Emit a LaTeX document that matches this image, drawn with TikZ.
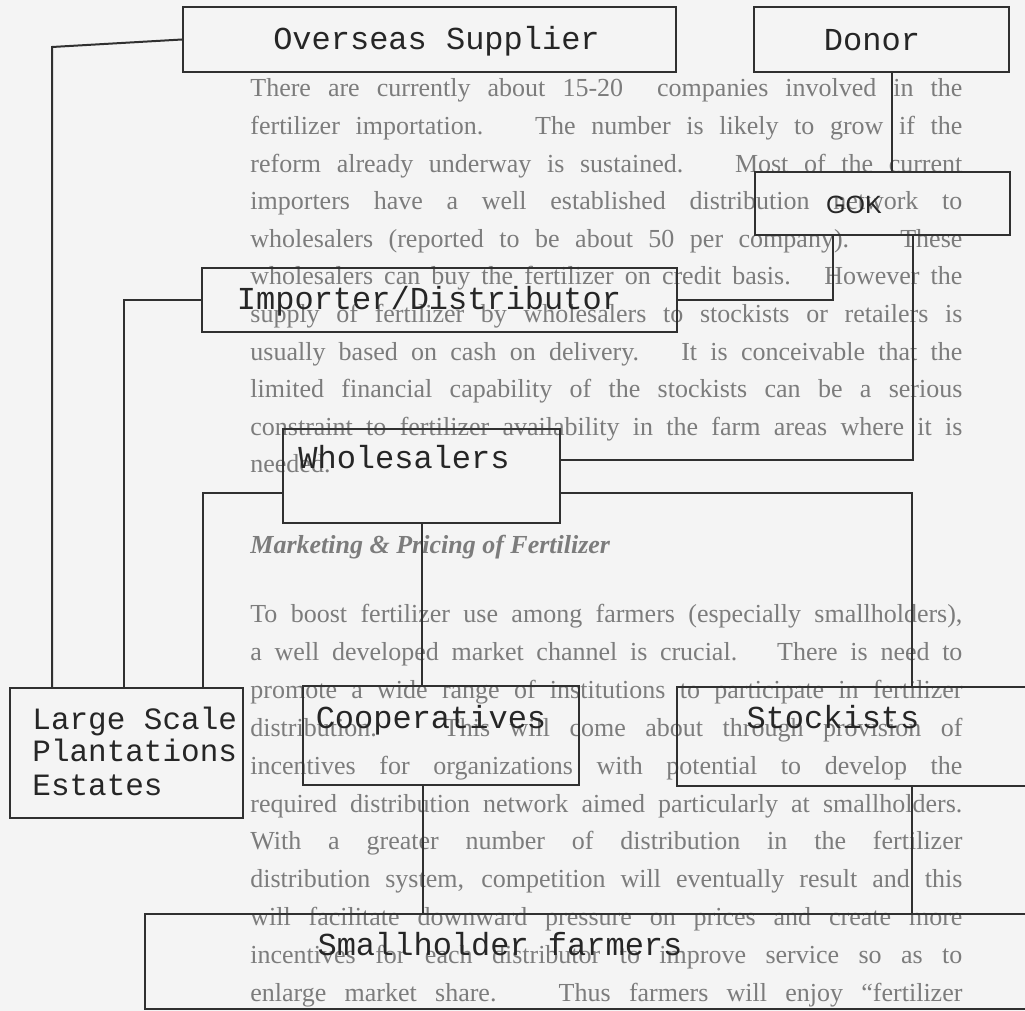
\documentclass[tikz,border=0pt]{standalone}
\usepackage{fontspec}
\setmainfont{Liberation Serif}
\newfontfamily\boxmono{Liberation Mono}
\newfontfamily\boxsans{Liberation Sans}
\usetikzlibrary{calc}
\definecolor{linecol}{HTML}{303030}
\definecolor{labelcol}{HTML}{262626}
\definecolor{paracol}{HTML}{7C7C7C}
\definecolor{bgcol}{HTML}{F4F4F4}
\begin{document}
\begin{tikzpicture}[x=0.5pt,y=-0.5pt,
  boxst/.style={draw=linecol, line width=1pt, inner sep=0pt},
  conn/.style={draw=linecol, line width=1pt},
  lbl/.style={font={\boxmono\fontsize{16}{19}\selectfont}, text=labelcol, inner sep=0pt, anchor=base},
  lblsm/.style={font={\boxmono\fontsize{15.5}{18}\selectfont}, text=labelcol, inner sep=0pt, anchor=base west},
  lblsans/.style={font={\boxsans\fontsize{12.5}{15}\selectfont}, text=labelcol, inner sep=0pt, anchor=base},
  para/.style={font={\fontsize{13}{16}\selectfont}, text=paracol, inner sep=0pt, anchor=base west}]
\useasboundingbox (0,0) rectangle (1025,1011);
\fill[bgcol] (0,0) rectangle (1025,1011);
\clip (0,0) rectangle (1025,1011);

% background page text
\foreach \ln [count=\i from 0] in {
  {There are currently about 15-20 \ companies involved in the},
  {fertilizer importation. \ The number is likely to grow if the},
  {reform already underway is sustained. \ Most of the current},
  {importers have a well established distribution network to},
  {wholesalers (reported to be about 50 per company). \ These},
  {wholesalers can buy the fertilizer on credit basis. \ However the},
  {supply of fertilizer by wholesalers to stockists or retailers is},
  {usually based on cash on delivery. \ It is conceivable that the},
  {limited financial capability of the stockists can be a serious},
  {constraint to fertilizer availability in the farm areas where it is}}
  \node[para] (pa\i) at (250,{97+37.6*\i}) {\makebox[356pt][s]{\ln}};
\node[para] (pa10) at (250,473) {needed.};
\node[para, font={\fontsize{13}{16}\selectfont\itshape\bfseries}] (head) at (250,553) {Marketing \& Pricing of Fertilizer};
\foreach \ln [count=\i from 0] in {
  {To boost fertilizer use among farmers (especially smallholders),},
  {a well developed market channel is crucial. \ There is need to},
  {promote a wide range of institutions to participate in fertilizer},
  {distribution. \ This will come about through provision of},
  {incentives for organizations with potential to develop the},
  {required distribution network aimed particularly at smallholders.},
  {With a greater number of distribution in the fertilizer},
  {distribution system, competition will eventually result and this},
  {will facilitate downward pressure on prices and create more},
  {incentives for each distributor to improve service so as to},
  {enlarge market share. \ Thus farmers will enjoy ``fertilizer}}
  \node[para] (pb\i) at (250,{623+37.8*\i}) {\makebox[356pt][s]{\ln}};

% boxes
\node[boxst, minimum width=246.5pt, minimum height=32.5pt] (os) at (429.5,39.5) {};
\node[boxst, minimum width=127.5pt, minimum height=32.5pt] (donor) at (881.5,39.5) {};
\node[boxst, minimum width=127.5pt, minimum height=31.5pt] (gok) at (882.5,203.5) {};
\node[boxst, minimum width=237.5pt, minimum height=32pt] (imp) at (439.5,300) {};
\node[boxst, minimum width=138.5pt, minimum height=47pt] (ws) at (421.5,476) {};
\node[boxst, minimum width=116.5pt, minimum height=65pt] (ls) at (126.5,753) {};
\node[boxst, minimum width=138pt, minimum height=49.5pt] (coop) at (441,735.5) {};
\node[boxst, minimum width=181.5pt, minimum height=49.5pt] (stock) at (858.5,736.5) {};
\node[boxst, minimum width=447.5pt, minimum height=47.5pt] (sh) at (592.5,961.5) {};

% labels
\node[lbl] (osT) at (436.5,50) {Overseas Supplier};
\node[lbl] (donorT) at (872,51) {Donor};
\node[lblsans] (gokT) at (854,214) {GOK};
\node[lbl] (impT) at (429,310) {Importer/Distributor};
\node[lbl] (wsT) at (404,468) {Wholesalers};
\node[lblsm] (ls1) at (32,729) {Large Scale};
\node[lblsm] (ls2) at (32,762) {Plantations};
\node[lblsm] (ls3) at (32,795) {Estates};
\node[lbl] (coopT) at (431,728) {Cooperatives};
\node[lbl] (stockT) at (833,728) {Stockists};
\node[lbl] (shT) at (500,955) {Smallholder farmers};

% connectors
\coordinate (xa) at (52,47);
\coordinate (xb) at (124,0);
\coordinate (xc) at (203,0);
\coordinate (xd) at (912,0);
\coordinate (xe) at (833,0);
\coordinate (xf) at (913,0);
\coordinate (xg) at (892,0);
\coordinate (xh) at (423,0);
\draw[conn] (os.west) -- (xa) -- (xa |- ls.north);
\draw[conn] (imp.west) -| (xb |- ls.north);
\draw[conn] ([yshift=-8.5pt]ws.west) -| (xc |- ls.north);
\draw[conn] ([yshift=-8.5pt]ws.east) -| (xd |- stock.north);
\draw[conn] (ws.south) -- (ws.south |- coop.north);
\draw[conn] (xe |- gok.south) |- (imp.east);
\draw[conn] (xf |- gok.south) |- ([yshift=8pt]ws.east);
\draw[conn] (xg |- donor.south) -- (xg |- gok.north);
\draw[conn] (xh |- coop.south) -- (xh |- sh.north);
\draw[conn] (xd |- stock.south) -- (xd |- sh.north);
\end{tikzpicture}
\end{document}
